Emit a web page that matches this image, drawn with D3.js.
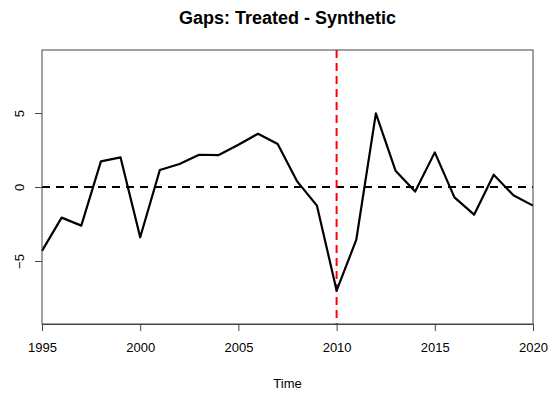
<!DOCTYPE html>
<html>
<head>
  <meta charset="utf-8">
  <title>Gaps: Treated - Synthetic</title>
  <script src="https://d3js.org/d3.v7.min.js"></script>
  <style>
    body { margin: 0; background: #fff; }
    text { font-family: "Liberation Sans", Arial, sans-serif; }
  </style>
</head>
<body>
  <svg width="553" height="396"></svg>
  <script>
    // Data
    var years = [1995, 1996, 1997, 1998, 1999, 2000, 2001, 2002, 2003, 2004, 2005, 2006, 2007,
                 2008, 2009, 2010, 2011, 2012, 2013, 2014, 2015, 2016, 2017, 2018, 2019, 2020];
    var gaps = [-4.32, -2.07, -2.61, 1.73, 2.0, -3.4, 1.15, 1.55, 2.18, 2.16, 2.86, 3.6, 2.9,
                0.36, -1.26, -7.0, -3.58, 4.98, 1.1, -0.31, 2.34, -0.7, -1.87, 0.83, -0.56, -1.26];
    var xTicks = [1995, 2000, 2005, 2010, 2015, 2020];
    var yTicks = [-5, 0, 5];
    var treatYear = 2010;

    var svg = d3.select("svg");
    // plot region (avoid the name "top", it is window.top)
    var plotL = 42, plotR = 533, plotT = 50, plotB = 324;

    // Scales
    var xScale = d3.scaleLinear().domain([1995, 2020]).range([plotL, plotR]);
    var yScale = d3.scaleLinear().domain([-9.26, 9.26]).range([plotB, plotT]);

    // Zero reference line
    svg.append("line")
      .attr("x1", plotL).attr("x2", plotR)
      .attr("y1", yScale(0)).attr("y2", yScale(0))
      .attr("stroke", "#000")
      .attr("stroke-width", 2)
      .attr("stroke-dasharray", "8,6");

    // Treatment year line
    svg.append("line")
      .attr("x1", xScale(treatYear)).attr("x2", xScale(treatYear))
      .attr("y1", plotT).attr("y2", plotB)
      .attr("stroke", "#ff0000")
      .attr("stroke-width", 2)
      .attr("stroke-dasharray", "8,5");

    // Gap series
    var line = d3.line()
      .x(function(d, i) { return xScale(years[i]); })
      .y(function(d) { return yScale(d); });

    svg.append("path")
      .datum(gaps)
      .attr("d", line)
      .attr("fill", "none")
      .attr("stroke", "#000")
      .attr("stroke-width", 2.2)
      .attr("stroke-linejoin", "round");

    // Box
    svg.append("rect")
      .attr("x", plotL).attr("y", plotT)
      .attr("width", plotR - plotL).attr("height", plotB - plotT)
      .attr("fill", "none")
      .attr("stroke", "#444")
      .attr("stroke-width", 1);

    // Axes
    var xAxis = svg.append("g")
      .attr("transform", "translate(0," + plotB + ")")
      .call(d3.axisBottom(xScale).tickValues(xTicks).tickFormat(d3.format("d")).tickSize(7).tickPadding(12));
    xAxis.select(".domain").attr("stroke", "#444");
    xAxis.selectAll(".tick line").attr("stroke", "#444");
    xAxis.selectAll("text").style("font-size", "13px").attr("fill", "#000");

    var yAxis = svg.append("g")
      .attr("transform", "translate(" + plotL + ",0)")
      .call(d3.axisLeft(yScale).tickValues(yTicks).tickSize(7));
    yAxis.select(".domain").remove();
    yAxis.selectAll(".tick line").attr("stroke", "#444");
    yAxis.selectAll("text")
      .style("font-size", "13px")
      .attr("fill", "#000")
      .attr("x", 0).attr("dy", null)
      .attr("text-anchor", "middle")
      .attr("transform", "translate(-23,0) rotate(-90)")
      .attr("dominant-baseline", "central");

    // Title and label
    svg.append("text")
      .attr("x", (plotL + plotR) / 2)
      .attr("y", 24)
      .attr("text-anchor", "middle")
      .style("font-size", "18px")
      .style("font-weight", "bold")
      .text("Gaps: Treated - Synthetic");

    svg.append("text")
      .attr("x", (plotL + plotR) / 2)
      .attr("y", 388)
      .attr("text-anchor", "middle")
      .style("font-size", "13px")
      .text("Time");
  </script>
</body>
</html>
